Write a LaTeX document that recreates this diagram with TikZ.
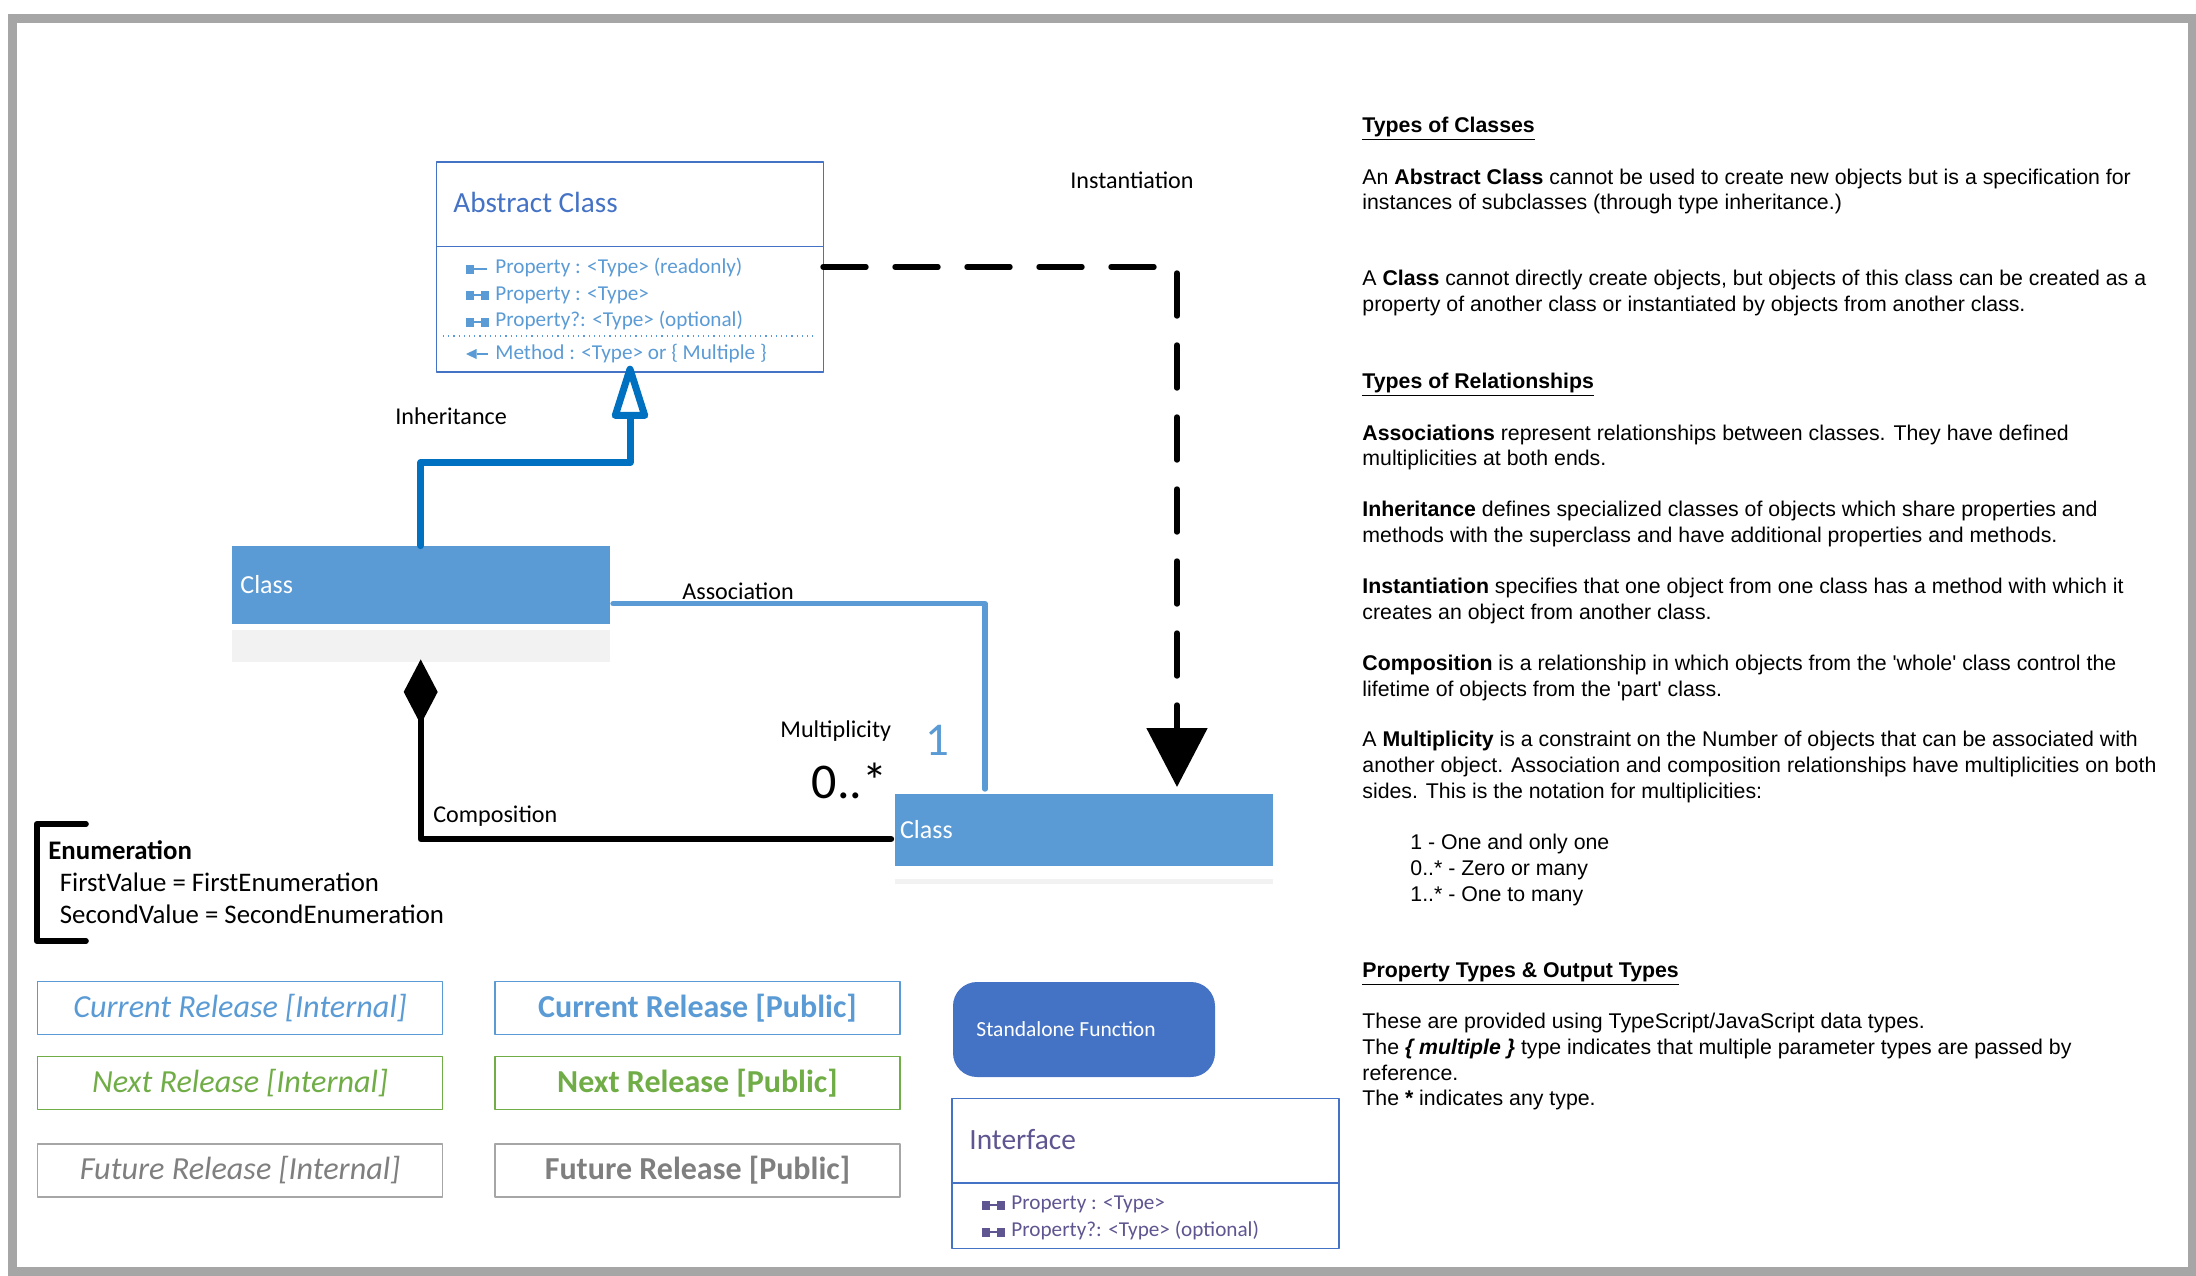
\documentclass[tikz,border=0pt]{standalone}
\usepackage{fontspec}
\setmainfont{Carlito}
\newfontfamily\notefont{Liberation Sans}
\usetikzlibrary{arrows.meta}

\definecolor{abstractblue}{HTML}{4472C4}
\definecolor{classblue}{HTML}{5B9BD5}
\definecolor{inheritblue}{HTML}{0070C0}
\definecolor{ifacepurple}{HTML}{5F5590}
\definecolor{nextgreen}{HTML}{70AD47}
\definecolor{futuregray}{HTML}{7F7F7F}
\definecolor{framegray}{HTML}{A6A6A6}
\definecolor{compgray}{HTML}{F2F2F2}

\tikzset{
    txt/.style={anchor=base west,inner sep=0pt},
    note/.style={anchor=north west,inner sep=0pt,align=left,
        font=\notefont\fontsize{10.65}{12.8}\selectfont,execute at begin node=\strut},
    member/.style={txt,font=\fontsize{10.6}{12}\selectfont},
    edgelabel/.style={txt,font=\fontsize{12.05}{14}\selectfont},
    umlbox/.style={draw=abstractblue,line width=0.7pt,inner sep=0pt,minimum width=193.5pt},
    classbox/.style={fill=classblue,inner sep=0pt,minimum width=189pt},
    release/.style={draw=#1,text=#1,line width=0.65pt,inner sep=0pt,minimum width=202.5pt,minimum height=26.5pt,text height=13pt,text depth=3.6pt},
    internal/.style={font=\fontsize{16.1}{18}\selectfont\itshape},
    public/.style={font=\fontsize{16}{18}\selectfont\bfseries},
    blueicon/.style={fill=classblue,draw=classblue},
    purpleicon/.style={fill=ifacepurple,draw=ifacepurple},
    roicon/.pic={
        \fill[pic actions,draw=none] (-11.5,-4.5) rectangle (-3.5,4.5);
        \draw[pic actions,line width=1pt] (-3.5,0) -- (9.5,0);
    },
    propicon/.pic={
        \fill[pic actions,draw=none] (-11.5,-4.5) rectangle (-3.5,4.5);
        \draw[pic actions,line width=1pt] (-3.5,0) -- (3,0);
        \fill[pic actions,draw=none] (3,-4.5) rectangle (11.5,4.5);
    },
    methodicon/.pic={
        \fill[pic actions,draw=none] (-11.5,0) -- (-1,-5) -- (-1,5) -- cycle;
        \draw[pic actions,line width=1pt] (-1,0) -- (10.5,0);
    },
}

\begin{document}
\begin{tikzpicture}[x=0.5pt,y=-0.5pt,line join=round]
    \useasboundingbox (0,0) rectangle (2196,1275);

    % outer frame
    \draw[framegray,line width=4.5pt,line join=miter] (12.5,18.5) rectangle (2192,1271.5);

    % nodes (classes)
    \node[umlbox,minimum height=105pt] (abstract) at (630,267) {};
    \node[txt,text=abstractblue,font=\fontsize{14.6}{16}\selectfont] (abstracttitle) at (453,212.5) {Abstract Class};
    \coordinate (abstractdiv) at (436,246.7);
    \node[classbox,minimum height=39pt] (classa) at (420.7,585) {};
    \node[fill=compgray,inner sep=0pt,minimum width=189pt,minimum height=16pt] (classagray) at (420.7,646) {};
    \node[txt,text=white,font=\fontsize{13}{15}\selectfont] (classatitle) at (240,593.5) {Class};
    \node[classbox,minimum height=36pt] (classb) at (1084,830) {};
    \node[fill=compgray,inner sep=0pt,minimum width=189pt,minimum height=2.5pt] (classbgray) at (1084,881.5) {};
    \node[txt,text=white,font=\fontsize{13}{15}\selectfont] (classbtitle) at (899.7,838.5) {Class};

    % members of the abstract class
    \draw[abstractblue,line width=0.7pt] (abstract.west |- abstractdiv) -- (abstract.east |- abstractdiv);
    \draw[classblue,line width=0.6pt,dotted] (443,336) -- (817,336);
    \pic[blueicon] at (477.5,269) {roicon};
    \pic[blueicon] at (477.5,295) {propicon};
    \pic[blueicon] at (477.5,322) {propicon};
    \pic[blueicon] at (477.5,354) {methodicon};
    \node[member,text=classblue] (m1) at (495,273) {Property : <Type> (readonly)};
    \node[member,text=classblue] (m2) at (495,300) {Property : <Type>};
    \node[member,text=classblue] (m3) at (495,326) {Property?: <Type> (optional)};
    \node[member,text=classblue] (m4) at (495,359) {Method : <Type> or \{ Multiple \}};

    % edges
    \coordinate (instbegin) at (823,267);
    \coordinate (instbend) at (1177,267);
    \coordinate (insttip) at (1177,787);
    \coordinate (assocbegin) at (613,603.7);
    \coordinate (assocend) at (985,789);
    \coordinate (compbegin) at (891,839);
    \draw[inheritblue,line width=3.5pt,line cap=round,-{Triangle[open,round,length=31pt,width=18.5pt]},shorten >=-3.5pt]
        (classa.north) -- ++(0,-83) -| (abstract.south); % class -> abstract class
    \draw[classblue,line width=2.7pt,line cap=round] (assocbegin) -| (assocend); % class -> class
    \draw[black,line width=3.2pt,line cap=round,-{Diamond[length=32.5pt,width=17pt]},shorten >=-1.5pt]
        (compbegin) -| (classagray.south); % class -> class
    \draw[black,line width=2.7pt,line cap=round,dash pattern=on 21.5pt off 14.5pt,-{Triangle[length=29.5pt,width=30pt]}]
        (instbegin) -- (instbend) -- (insttip); % abstract class -> class

    % edge labels
    \node[edgelabel] (inhlabel) at (395,424) {Inheritance};
    \node[edgelabel] (instlabel) at (1070,188.5) {Instantiation};
    \node[edgelabel] (assoclabel) at (682,599) {Association};
    \node[edgelabel] (complabel) at (433,822) {Composition};
    \node[edgelabel] (multlabel) at (780,737) {Multiplicity};
    \node[txt,font=\fontsize{25}{27}\selectfont] (manylabel) at (811.5,798) {0..*};
    \node[txt,text=classblue,font=\fontsize{23.5}{25}\selectfont] (onelabel) at (925,755) {1};

    % enumeration
    \coordinate (enumtop) at (86,824);
    \coordinate (enumbot) at (86,941);
    \draw[black,line width=2.8pt,line cap=round] (enumtop) -- (36.7,824) -- (36.7,941) -- (enumbot);
    \node[txt,font=\fontsize{13.4}{15}\selectfont\bfseries] (enumtitle) at (48,859) {Enumeration};
    \node[txt,font=\fontsize{13.4}{15}\selectfont] (enumfirst) at (59.5,891) {FirstValue = FirstEnumeration};
    \node[txt,font=\fontsize{13.4}{15}\selectfont] (enumsecond) at (59.5,923) {SecondValue = SecondEnumeration};

    % releases
    \node[release=classblue,internal] (curint) at (240,1008) {Current Release [Internal]};
    \node[release=classblue,public] (curpub) at (697.5,1008) {Current Release [Public]};
    \node[release=nextgreen,internal] (nextint) at (240,1083) {Next Release [Internal]};
    \node[release=nextgreen,public] (nextpub) at (697.5,1083) {Next Release [Public]};
    \node[release=futuregray,internal,draw=framegray] (futint) at (240,1170.5) {Future Release [Internal]};
    \node[release=futuregray,public,draw=framegray] (futpub) at (697.5,1170.5) {Future Release [Public]};

    % standalone function and interface
    \node[fill=abstractblue,rounded corners=12pt,inner sep=0pt,minimum width=131pt,minimum height=47.5pt] (standalone) at (1084,1029.5) {};
    \node[txt,text=white,font=\fontsize{10.75}{12}\selectfont] (standalonetext) at (976,1036) {Standalone Function};
    \node[umlbox,minimum height=75pt] (iface) at (1145.5,1173.7) {};
    \coordinate (ifacediv) at (952,1183);
    \draw[abstractblue,line width=0.7pt] (iface.west |- ifacediv) -- (iface.east |- ifacediv);
    \node[txt,text=ifacepurple,font=\fontsize{14.7}{16}\selectfont] (ifacetitle) at (969,1149) {Interface};
    \pic[purpleicon] at (993.5,1205) {propicon};
    \pic[purpleicon] at (993.5,1232) {propicon};
    \node[member,text=ifacepurple] (i1) at (1011,1209) {Property : <Type>};
    \node[member,text=ifacepurple] (i2) at (1011,1236.7) {Property?: <Type> (optional)};

    % notes on the right
    \node[note] (n1) at (1362,114) {\textbf{\underline{Types of Classes}}};
    \node[note] (n2) at (1362,168.5) {An \textbf{Abstract Class} cannot be used to create new objects but is a specification for\\instances of subclasses (through type inheritance.)};
    \node[note] (n3) at (1362,270) {A \textbf{Class} cannot directly create objects, but objects of this class can be created as a\\property of another class or instantiated by objects from another class.};
    \node[note] (n4) at (1362,370) {\textbf{\underline{Types of Relationships}}};
    \node[note] (n5) at (1362,424.5) {\textbf{Associations} represent relationships between classes. They have defined\\multiplicities at both ends.};
    \node[note] (n6) at (1362,501) {\textbf{Inheritance} defines specialized classes of objects which share properties and\\methods with the superclass and have additional properties and methods.};
    \node[note] (n7) at (1362,578) {\textbf{Instantiation} specifies that one object from one class has a method with which it\\creates an object from another class.};
    \node[note] (n8) at (1362,655) {\textbf{Composition} is a relationship in which objects from the 'whole' class control the\\lifetime of objects from the 'part' class.};
    \node[note] (n9) at (1362,731) {A \textbf{Multiplicity} is a constraint on the Number of objects that can be associated with\\another object. Association and composition relationships have multiplicities on both\\sides. This is the notation for multiplicities:};
    \node[note] (n10) at (1410,834) {1 - One and only one\\0..* - Zero or many\\1..* - One to many};
    \node[note] (n11) at (1362,959) {\textbf{\underline{Property Types \& Output Types}}};
    \node[note] (n12) at (1362,1013) {These are provided using TypeScript/JavaScript data types.\\The \textbf{\textit{\{ multiple \}}} type indicates that multiple parameter types are passed by\\reference.\\The \textbf{*} indicates any type.};

\end{tikzpicture}
\end{document}
